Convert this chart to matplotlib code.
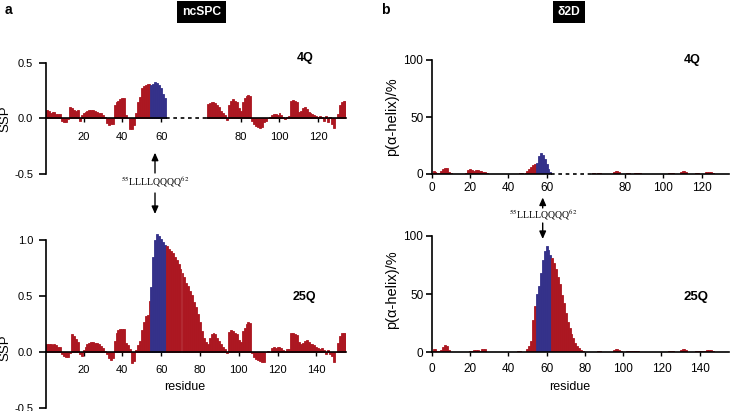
import matplotlib
import numpy as np

matplotlib.use("Agg")
import matplotlib.pyplot as plt

plt.rcParams["font.family"] = ["Liberation Sans", "DejaVu Sans"]
plt.rcParams["mathtext.fontset"] = "stix"

W, H = 730, 411
RED = "#AC1721"
BLUE = "#34318A"
Q_SHIFT = 21  # 25Q - 4Q, shifts the 4Q C-terminus onto 25Q numbering
BREAK = (62.5, 83.5)
HELIX = (55, 62)  # 55LLLLQQQQ62

# ---- ncSPC secondary structure propensity (SSP) ----
ssp_25q = [
    0.075, 0.075, 0.07, 0.065, 0.07, 0.06, 0.05, 0.045, -0.02, -0.03,
    -0.04, -0.04, -0.005, 0.16, 0.145, 0.12, 0.09, -0.02, -0.03, 0.02,
    0.05, 0.07, 0.085, 0.09, 0.09, 0.085, 0.08, 0.07, 0.055, 0.035,
    0.01, -0.02, -0.05, -0.07, -0.05, 0.1, 0.17, 0.2, 0.21, 0.21,
    0.21, 0.08, 0.06, 0.03, -0.1, -0.08, 0.02, 0.06, 0.1, 0.2,
    0.27, 0.32, 0.33, 0.46, 0.58, 0.85, 1.0, 1.05, 1.04, 1.01,
    0.98, 0.96, 0.95, 0.92, 0.9, 0.88, 0.85, 0.82, 0.79, 0.74,
    0.71, 0.67, 0.62, 0.59, 0.55, 0.51, 0.45, 0.4, 0.34, 0.27,
    0.19, 0.13, 0.09, 0.075, 0.13, 0.16, 0.17, 0.16, 0.13, 0.1,
    0.07, 0.05, 0.03, -0.01, 0.18, 0.2, 0.19, 0.17, 0.16, 0.11,
    0.09, 0.19, 0.22, 0.25, 0.27, 0.26, -0.01, -0.04, -0.06, -0.07,
    -0.08, -0.09, -0.09, 0.0, 0.01, 0.0, 0.04, 0.05, 0.04, 0.05,
    0.05, 0.04, 0.02, 0.01, 0.03, 0.03, 0.17, 0.17, 0.16, 0.15,
    0.09, 0.07, 0.08, 0.1, 0.11, 0.09, 0.07, 0.07, 0.06, 0.05,
    0.04, 0.03, 0.04, 0.02, -0.02, 0.02, -0.02, -0.03, -0.09, 0.0,
    0.08, 0.14, 0.17, 0.17, 0.17,
]
ssp_4q_n = [
    0.075, 0.07, 0.05, 0.06, 0.06, 0.04, 0.04, 0.035, -0.02, -0.03,
    -0.03, -0.005, 0.1, 0.095, 0.075, 0.07, 0.075, -0.02, 0.03, 0.045,
    0.06, 0.07, 0.075, 0.075, 0.075, 0.07, 0.06, 0.05, 0.045, 0.03,
    0.01, -0.04, -0.06, -0.05, -0.05, 0.12, 0.15, 0.16, 0.17, 0.18,
    0.18, 0.03, 0.0, -0.1, -0.1, -0.06, 0.045, 0.15, 0.19, 0.27,
    0.29, 0.3, 0.31, 0.31, 0.3, 0.31, 0.33, 0.32, 0.3, 0.27,
    0.22, 0.18,
]
ssp_4q_c = [
    0.13, 0.14, 0.15, 0.15, 0.14, 0.12, 0.1, 0.07, 0.05, 0.03,
    -0.015, 0.12, 0.16, 0.17, 0.16, 0.15, 0.09, 0.07, 0.15, 0.18,
    0.2, 0.21, 0.2, -0.02, -0.05, -0.07, -0.08, -0.09, -0.08, -0.03,
    -0.02, 0.0, 0.01, 0.03, 0.04, 0.04, 0.03, 0.045, 0.03, 0.015,
    -0.01, 0.01, 0.02, 0.16, 0.165, 0.16, 0.15, 0.06, 0.07, 0.09,
    0.1, 0.08, 0.06, 0.05, 0.04, 0.03, 0.02, 0.01, 0.02, 0.01,
    -0.02, 0.02, -0.03, 0.01, -0.05, -0.09, 0.0, 0.04, 0.12, 0.15,
    0.16, 0.16,
]

# ---- delta2D helix population (%) ----
helix_25q = [
    3, 2.5, 1, 1, 2, 4.5, 6, 5.5, 2, 0.5,
    0, 0, 0, 0, 0, 0, 0, 0, 0.5, 1.5,
    1.5, 2, 2.3, 2, 1.5, 2.5, 3, 2.5, 0.5, 0,
    0, 0, 0, 0, 0, 0, 0, 0, 0, 0,
    0, 0, 0, 0.5, 0.8, 0.8, 0.3, 0, 0, 3,
    5, 10, 28, 40, 50, 57, 68, 79, 87, 91,
    88, 84, 81, 77, 72, 65, 59, 49, 42, 34,
    26, 21, 16, 12, 8, 5.5, 3.5, 2, 1, 0.5,
    0.3, 0.3, 0.3, 0.3, 0.3, 0.3, 0.8, 1, 0.3, 0,
    0, 0, 0, 0.5, 2, 3, 3, 2, 0.8, 0.3,
    0.5, 1.2, 1.5, 1.2, 1.2, 1.5, 1.5, 1.2, 0.5, 0,
    0, 0, 0, 0, 0, 0, 0, 0, 0, 0,
    0, 0, 0, 0.8, 1, 0.8, 0.3, 0, 0.5, 2,
    3, 3, 2, 0.5, 0, 0, 0.3, 1, 1.5, 1.2,
    1, 1, 1.5, 2, 2, 2, 1, 0.3, 0, 0,
    0, 0, 0, 0, 0,
]
helix_4q_n = [
    3, 2, 1, 1, 3, 4.5, 5.5, 5, 2, 0.5,
    0, 0, 0, 0, 0, 0, 0, 1, 3.5, 4,
    3.5, 3, 3.5, 3.5, 3, 2.5, 2, 1.5, 0.5, 0,
    0, 0, 0, 0, 0, 0, 0, 0, 0, 0,
    0, 0, 0, 0, 0.3, 0.5, 0.5, 0.3, 1, 2.5,
    4, 6, 8, 9, 10, 16, 18, 17, 13, 9,
    4, 1.5,
]
helix_4q_c = [
    0.8, 0.8, 0.3, 0.7, 0.7, 0, 0, 0, 0, 0,
    0, 1.5, 2.5, 2.5, 1.5, 0.3, 0.3, 0.3, 1, 1,
    0.3, 0.3, 0.8, 0.8, 0.8, 0.5, 0, 0, 0, 0,
    0, 0, 0, 0, 0, 0, 0, 0, 0, 0,
    0.5, 0.8, 0.5, 0, 0, 0, 1.5, 2.5, 2.5, 1.5,
    0, 0, 0, 0, 0.5, 0.5, 0.3, 0.3, 0.3, 1.5,
    2, 2, 1.5, 0.5, 0, 0, 0, 0, 0, 0,
    0, 0,
]

ticks_25q = [20, 40, 60, 80, 100, 120, 140]
ticks_4q = [20, 40, 60, 80, 100, 120]


def px_box(l, t, r, b):
    return [l / W, 1 - b / H, (r - l) / W, (b - t) / H]


def fig_xy(x, y):
    return (x / W, 1 - y / H)


def plot_pos(res, shifted):
    res = np.asarray(res)
    if not shifted:
        return res
    return np.where(res > HELIX[1], res + Q_SHIFT, res)


def draw_bars(ax, values, shifted=False):
    res = np.arange(1, len(values) + 1)
    colors = [BLUE if HELIX[0] <= r <= HELIX[1] else RED for r in res]
    ax.bar(plot_pos(res, shifted), values, width=1.0, color=colors,
           edgecolor=colors, linewidth=0.6, zorder=2)


def style_axis(ax, xlim, ylim, ybounds, yticks, yfmt, broken, fs):
    ax.set_xlim(*xlim)
    ax.set_ylim(*ylim)
    for s in ["top", "right"]:
        ax.spines[s].set_visible(False)
    ax.spines["left"].set_bounds(*ybounds)
    ax.spines["left"].set_linewidth(1.2)
    ax.spines["bottom"].set_position(("data", 0))
    ax.spines["bottom"].set_linewidth(1.2)
    ax.spines["bottom"].set_zorder(3)
    ax.set_yticks(yticks)
    ax.set_yticklabels([yfmt.format(v) for v in yticks])
    ax.tick_params(axis="y", length=4, width=1.2, labelsize=fs, pad=2)
    ax.tick_params(axis="x", length=3, width=1.0, labelsize=fs, pad=3)
    if broken:
        ax.spines["bottom"].set_bounds(xlim[0], BREAK[0])
        ax.plot(BREAK, [0, 0], color="black", lw=1.2, ls=(0, (2.2, 2.2)),
                clip_on=False, zorder=3)
        ax.plot([BREAK[1], xlim[1]], [0, 0], color="black", lw=1.2,
                clip_on=False, zorder=3)


fig = plt.figure(figsize=(W / 100, H / 100), dpi=100)

# panel a: ncSPC
ax_a4 = fig.add_axes(px_box(45.7, 62.7, 346.4, 174))
draw_bars(ax_a4, ssp_4q_n)
draw_bars(ax_a4, [np.nan] * 62 + ssp_4q_c, shifted=True)
style_axis(ax_a4, (0.5, 155.5), (-0.5, 0.5), (-0.5, 0.5), [0.5, 0.0, -0.5],
           "{:.1f}", True, 8)
ax_a4.set_xticks(plot_pos(ticks_4q, True))
ax_a4.set_xticklabels([str(t) for t in ticks_4q])
ax_a4.tick_params(axis="x", pad=7)
ax_a4.tick_params(axis="y", length=5, pad=4)
ax_a4.set_ylabel("SSP", fontsize=9.5)
ax_a4.yaxis.set_label_coords(-0.135, 0.5)
ax_a4.text(0.862, 1.04, "4Q", transform=ax_a4.transAxes, fontsize=9,
           weight="bold", ha="center", va="center")

ax_a25 = fig.add_axes(px_box(45.7, 228.8, 346.4, 408.3))
draw_bars(ax_a25, ssp_25q)
style_axis(ax_a25, (0.5, 155.5), (-0.5, 1.1), (-0.5, 1.0),
           [1.0, 0.5, 0.0, -0.5], "{:.1f}", False, 8)
ax_a25.set_xticks(ticks_25q)
ax_a25.tick_params(axis="x", pad=6)
ax_a25.tick_params(axis="y", length=5, pad=4)
ax_a25.set_ylabel("SSP", fontsize=9.5)
ax_a25.yaxis.set_label_coords(-0.135, 0.336)
ax_a25.set_xlabel("residue", fontsize=9)
ax_a25.xaxis.set_label_coords(0.4616, 0.119)
ax_a25.xaxis.label.set_va("center")
ax_a25.text(0.862, 0.62, "25Q", transform=ax_a25.transAxes, fontsize=9,
            weight="bold", ha="center", va="center")

# panel b: delta2D
ax_b4 = fig.add_axes(px_box(431.7, 60, 728.5, 174))
draw_bars(ax_b4, helix_4q_n)
draw_bars(ax_b4, [np.nan] * 62 + helix_4q_c, shifted=True)
style_axis(ax_b4, (0, 155), (0, 100), (0, 100), [0, 50, 100], "{:d}",
           True, 8.5)
ax_b4.set_xticks([0] + list(plot_pos(ticks_4q, True)))
ax_b4.set_xticklabels(["0"] + [str(t) for t in ticks_4q])
ax_b4.set_ylabel("p(α-helix)/%", fontsize=10.5)
ax_b4.yaxis.set_label_coords(-0.135, 0.5)
ax_b4.text(0.877, 1.0, "4Q", transform=ax_b4.transAxes, fontsize=9,
           weight="bold", ha="center", va="center")

ax_b25 = fig.add_axes(px_box(431.7, 236, 728.5, 352.3))
draw_bars(ax_b25, helix_25q)
style_axis(ax_b25, (0, 155), (0, 100), (0, 100), [0, 50, 100], "{:d}",
           False, 8.5)
ax_b25.set_xticks([0] + ticks_25q)
ax_b25.tick_params(axis="x", pad=5)
ax_b25.set_ylabel("p(α-helix)/%", fontsize=10.5)
ax_b25.yaxis.set_label_coords(-0.135, 0.536)
ax_b25.set_xlabel("residue", fontsize=9)
ax_b25.xaxis.set_label_coords((570 - 431.7) / 296.8, (352.3 - 387) / 116.3)
ax_b25.xaxis.label.set_va("center")
ax_b25.text(0.889, 0.475, "25Q", transform=ax_b25.transAxes, fontsize=9.5,
            weight="bold", ha="center", va="center")

for ax in [ax_a4, ax_a25, ax_b4, ax_b25]:
    ax.yaxis.label.set_va("center")

# headers and panel letters
for x, label in [(201.7, "ncSPC"), (569, "δ2D")]:
    fig.text(*fig_xy(x, 12.2), label, color="white", weight="bold",
             fontsize=8.7, ha="center", va="center",
             bbox=dict(facecolor="black", edgecolor="none",
                       boxstyle="square,pad=0.4"))
fig.text(*fig_xy(5, 10), "a", weight="bold", fontsize=10, va="center")
fig.text(*fig_xy(381, 10), "b", weight="bold", fontsize=10, va="center")

# LLLLQQQQ arrows
arrow = dict(arrowstyle="-|>,head_length=0.45,head_width=0.2",
             color="black", lw=1.0, shrinkA=0, shrinkB=0)
for x, up, txt_y, down in [(155, (173, 152.7), 181.7, (193, 214)),
                            (542.7, (208, 197.5), 215, (223, 239))]:
    fig.add_artist(plt.Annotation("", xy=fig_xy(x, up[1]),
                                  xytext=fig_xy(x, up[0]),
                                  xycoords="figure fraction",
                                  arrowprops=arrow))
    fig.add_artist(plt.Annotation("", xy=fig_xy(x, down[1]),
                                  xytext=fig_xy(x, down[0]),
                                  xycoords="figure fraction",
                                  arrowprops=arrow))
    fig.text(*fig_xy(x, txt_y), r"$^{55}$LLLLQQQQ$^{62}$",
             family=["Liberation Serif", "DejaVu Serif"], fontsize=7,
             ha="center", va="center")

fig.savefig("out.png", dpi=100)
